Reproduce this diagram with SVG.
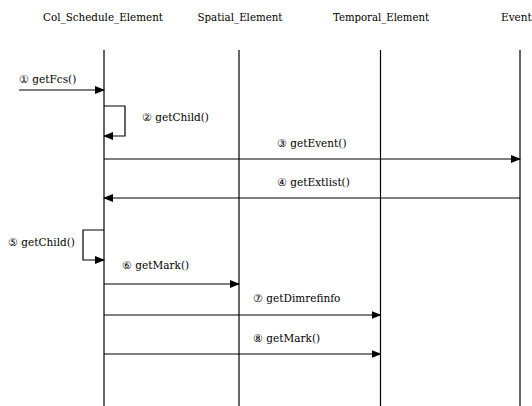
<svg xmlns="http://www.w3.org/2000/svg" width="532" height="406" viewBox="0 0 532 406">
<style>
.hd{text-anchor:middle}
.ll{stroke:#000;stroke-width:1.2;fill:none}
.msg{stroke:#000;stroke-width:1.2;fill:none;marker-end:url(#ah)}
text{font-family:"DejaVu Serif","Liberation Serif",serif;font-size:10.5px;fill:#000}
</style>
<defs>
<marker id="ah" markerWidth="10" markerHeight="8" refX="9" refY="4" orient="auto" markerUnits="userSpaceOnUse">
<path d="M0,0 L10,4 L0,8 Z" fill="#000"/>
</marker>
</defs>
<rect width="532" height="406" fill="#fff"/>
<g id="col_schedule_element">
<text class="hd" x="103" y="21" textLength="120" lengthAdjust="spacingAndGlyphs">Col_Schedule_Element</text>
<line class="ll" x1="104" y1="50" x2="104" y2="406"/>
</g>
<g id="spatial_element">
<text class="hd" x="240" y="21" textLength="85" lengthAdjust="spacingAndGlyphs">Spatial_Element</text>
<line class="ll" x1="239" y1="50" x2="239" y2="406"/>
</g>
<g id="temporal_element">
<text class="hd" x="381" y="21" textLength="96" lengthAdjust="spacingAndGlyphs">Temporal_Element</text>
<line class="ll" x1="380.5" y1="50" x2="380.5" y2="406"/>
</g>
<g id="event">
<text x="501" y="21">Event</text>
<line class="ll" x1="520" y1="50" x2="520" y2="406"/>
</g>
<g id="connectors">
<path class="msg" d="M19,90 L104,90"/>
<text x="19" y="83">① getFcs()</text>
<path class="msg" d="M104,106 L125,106 L125,136 L104,136"/>
<text x="142" y="121">② getChild()</text>
<path class="msg" d="M104,159 L520,159"/>
<text x="277" y="147">③ getEvent()</text>
<path class="msg" d="M520,198 L104,198"/>
<text x="277" y="186">④ getExtlist()</text>
<path class="msg" d="M104,230 L83,230 L83,260 L104,260"/>
<text x="8" y="246">⑤ getChild()</text>
<path class="msg" d="M104,284 L239,284"/>
<text x="122" y="269">⑥ getMark()</text>
<path class="msg" d="M104,315 L380.5,315"/>
<text x="253" y="302">⑦ getDimrefinfo</text>
<path class="msg" d="M104,354 L380.5,354"/>
<text x="253" y="342">⑧ getMark()</text>
</g>
</svg>
